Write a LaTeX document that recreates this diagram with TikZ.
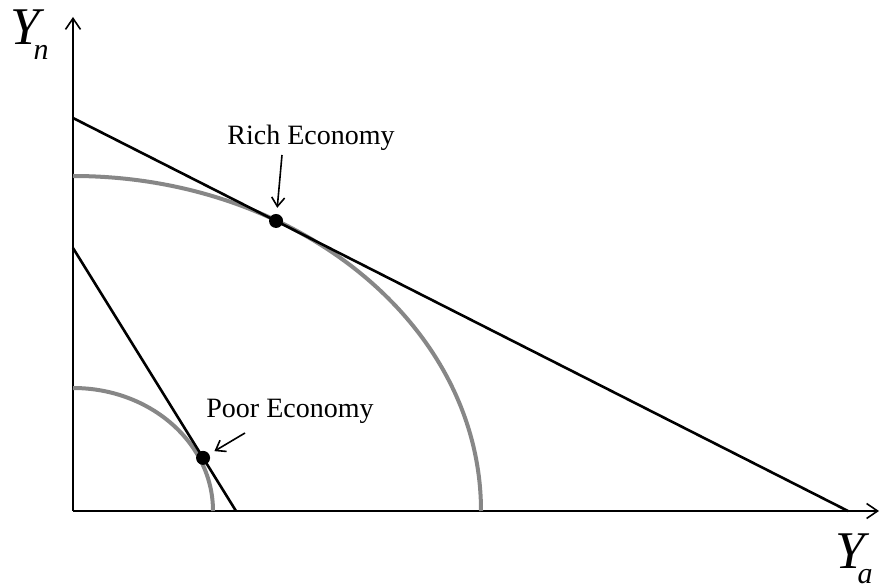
\documentclass[tikz,border=0pt]{standalone}
\usepackage{fontspec}
\setmainfont{Liberation Serif}
\usepackage{tikz}
\usetikzlibrary{arrows.meta, positioning}

\begin{document}
\begin{tikzpicture}[
    x=1pt, y=1pt,
    axis/.style={line width=2pt, -{Straight Barb[length=11pt, width=15pt, line width=1.6pt]}},
    budget/.style={line width=2.6pt, black},
    frontier/.style={line width=4pt, black!47},
    pointer/.style={line width=1.6pt, -{Straight Barb[length=9pt, width=13pt, line width=1.6pt]}, shorten >=6pt},
    eqdot/.style={circle, fill=black, inner sep=0pt, minimum size=14pt},
    lbl/.style={inner sep=0pt, anchor=base, font=\fontsize{28}{30}\selectfont},
]
    \useasboundingbox (-73,-75) rectangle (807,511);

    % axes
    \coordinate (origin) at (0,0);
    \coordinate (ytip) at (0,494);
    \coordinate (xtip) at (806,0);
    \draw[axis] (origin) -- (ytip);
    \draw[axis] (origin) -- (xtip);
    \node[inner sep=0pt, anchor=base west] (ylab) at (-63,466)
        {\fontsize{53}{60}\selectfont\itshape Y\kern-6pt\raisebox{-15pt}{\fontsize{30}{32}\selectfont n}};
    \node[inner sep=0pt, anchor=base west] (xlab) at (762,-57)
        {\fontsize{53}{60}\selectfont\itshape Y\kern-7pt\raisebox{-15pt}{\fontsize{30}{32}\selectfont a}};

    % production frontiers
    \draw[frontier] (0,335) arc[start angle=90, end angle=0, x radius=408, y radius=335];
    \draw[frontier] (0,123) arc[start angle=90, end angle=0, x radius=140, y radius=123];

    % budget lines
    \coordinate (richtop) at (0,393);
    \coordinate (richend) at (775,0);
    \coordinate (poortop) at (0,263);
    \coordinate (poorend) at (163,0);
    \draw[budget] (richtop) -- (richend);
    \draw[budget] (poortop) -- (poorend);

    % equilibria
    \path (richtop) -- (richend) coordinate[pos=0.262] (richpt);
    \path (poortop) -- (poorend) coordinate[pos=0.798] (poorpt);
    \node[eqdot] (richdot) at (richpt) {};
    \node[eqdot] (poordot) at (poorpt) {};

    \node[lbl] (richlab) at (238,366) {Rich Economy};
    \node[lbl] (poorlab) at (217,93) {Poor Economy};
    \coordinate (richtail) at (209,356);
    \coordinate (poortail) at (172,78);
    \draw[pointer] (richtail) -- (richdot);
    \draw[pointer] (poortail) -- (poordot);
\end{tikzpicture}
\end{document}
